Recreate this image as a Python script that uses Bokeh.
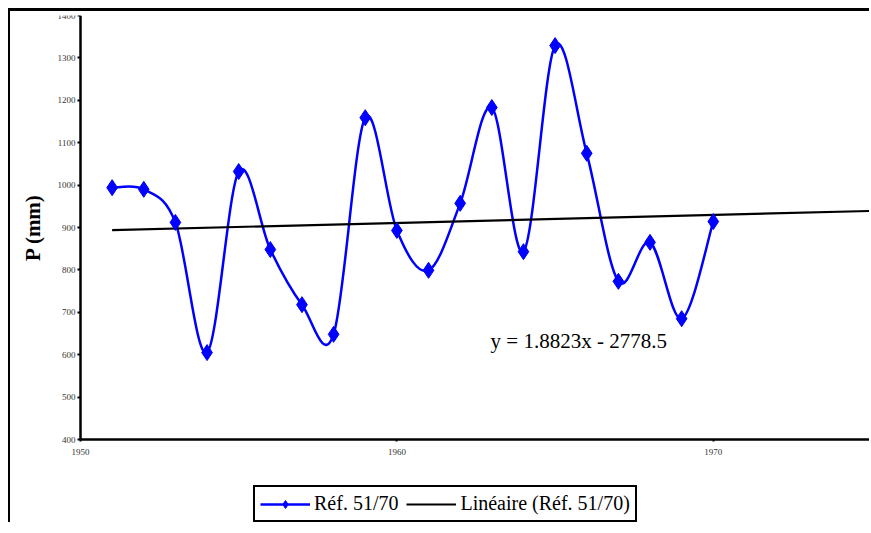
from bokeh.plotting import figure
from bokeh.models import Range1d, FixedTicker, Legend, LegendItem, Label, ColumnDataSource
from bokeh.embed import file_html
from bokeh.resources import INLINE

# ---- data ----
years = [1951, 1952, 1953, 1954, 1955, 1956, 1957, 1958, 1959, 1960,
         1961, 1962, 1963, 1964, 1965, 1966, 1967, 1968, 1969, 1970]
precip = [994, 990, 912, 605, 1032, 848, 718, 648, 1159, 893,
          799, 957, 1183, 843, 1329, 1075, 773, 865, 685, 914]
trend_slope = 1.8823
trend_intercept = -2778.5
trend_years = [1951, 1975]
y_ticks = [400, 500, 600, 700, 800, 900, 1000, 1100, 1200, 1300, 1400]
x_ticks = [1950, 1960, 1970]
x_tick_labels = {1950: "1950", 1960: "1960", 1970: "1970"}
series_label = "Réf. 51/70"
trend_label = "Linéaire (Réf. 51/70)"
equation_text = "y = 1.8823x - 2778.5"

SERIF = "Liberation Serif"

# the frame extends below y=400 and left of 1950 to host legend and axis texts;
# both axes are pinned at (1950, 400)
p = figure(width=861, height=514,
           x_range=Range1d(1947.788, 1975), y_range=Range1d(197.2, 1400),
           output_backend="svg", toolbar_location=None,
           min_border_left=0, min_border_right=0, min_border_top=4, min_border_bottom=0)
p.styles = {"border-left": "2px solid black", "border-top": "3px solid black",
            "margin-left": "8px", "margin-top": "8px"}
p.outline_line_color = None
p.xgrid.visible = False
p.ygrid.visible = False
p.background_fill_color = "white"

# y axis (fixed at x = 1950)
p.yaxis.fixed_location = 1950
p.yaxis.ticker = FixedTicker(ticks=y_ticks)
p.yaxis.bounds = (400, 1400)
p.yaxis.axis_line_width = 2.5
p.yaxis.axis_line_color = "black"
p.yaxis.major_tick_out = 3
p.yaxis.major_tick_in = 0
p.yaxis.major_tick_line_width = 2
p.yaxis.minor_tick_line_color = None
p.yaxis.major_label_text_font = SERIF
p.yaxis.major_label_text_font_size = "9px"
p.yaxis.major_label_text_color = "#333333"
p.yaxis.major_label_standoff = 2
p.yaxis.axis_label = "P (mm)"
p.yaxis.axis_label_text_font = SERIF
p.yaxis.axis_label_text_font_style = "bold"
p.yaxis.axis_label_text_font_size = "21px"
p.yaxis.axis_label_text_color = "black"
p.yaxis.axis_label_standoff = 10

# x axis (fixed at y = 400)
p.xaxis.fixed_location = 400
p.xaxis.ticker = FixedTicker(ticks=x_ticks)
p.xaxis.bounds = (1950, 1975)
p.xaxis.major_label_overrides = x_tick_labels
p.xaxis.axis_line_width = 2.5
p.xaxis.axis_line_color = "black"
p.xaxis.major_tick_out = 2
p.xaxis.major_tick_in = 0
p.xaxis.major_tick_line_width = 2
p.xaxis.minor_tick_line_color = None
p.xaxis.major_label_text_font = SERIF
p.xaxis.major_label_text_font_size = "9px"
p.xaxis.major_label_text_color = "#333333"
p.xaxis.major_label_standoff = 7

# smooth (Excel-style) curve through the points using cubic Bezier segments
n = len(years)
xe = [years[0]] + years + [years[-1]]
ye = [precip[0]] + precip + [precip[-1]]
seg = dict(x0=[], y0=[], x1=[], y1=[], cx0=[], cy0=[], cx1=[], cy1=[])
for i in range(n - 1):
    k = i + 1
    seg["x0"].append(xe[k]); seg["y0"].append(ye[k])
    seg["x1"].append(xe[k + 1]); seg["y1"].append(ye[k + 1])
    seg["cx0"].append(xe[k] + (xe[k + 1] - xe[k - 1]) / 6.0)
    seg["cy0"].append(ye[k] + (ye[k + 1] - ye[k - 1]) / 6.0)
    seg["cx1"].append(xe[k + 1] - (xe[k + 2] - xe[k]) / 6.0)
    seg["cy1"].append(ye[k + 1] - (ye[k + 2] - ye[k]) / 6.0)
bez_r = p.bezier(x0="x0", y0="y0", x1="x1", y1="y1", cx0="cx0", cy0="cy0", cx1="cx1", cy1="cy1",
                 source=ColumnDataSource(seg), line_color="#0000FF", line_width=2.5)

trend_vals = [trend_slope * x + trend_intercept for x in trend_years]
trend_r = p.line(trend_years, trend_vals, line_color="black", line_width=2.2)

sc_r = p.scatter(years, precip, marker="diamond", size=16,
                 fill_color="#0000FF", line_color="#0000FF")

eq = Label(x=1962.96, y=633, text=equation_text, text_font=SERIF, text_font_size="21px",
           text_color="black", text_baseline="middle", text_align="left")
p.add_layout(eq)

legend = Legend(items=[LegendItem(label=series_label, renderers=[bez_r, sc_r]),
                       LegendItem(label=trend_label, renderers=[trend_r])],
                orientation="horizontal", location=(243, 3))
legend.label_text_font = SERIF
legend.label_text_font_size = "20px"
legend.label_text_color = "black"
legend.label_standoff = 4
legend.glyph_width = 50
legend.glyph_height = 20
legend.spacing = 8
legend.padding = 5
legend.margin = 0
legend.border_line_color = "black"
legend.border_line_alpha = 1.0
legend.border_line_width = 2
legend.background_fill_color = "white"
p.add_layout(legend, "center")

open("out.html", "w").write(file_html(p, INLINE))
